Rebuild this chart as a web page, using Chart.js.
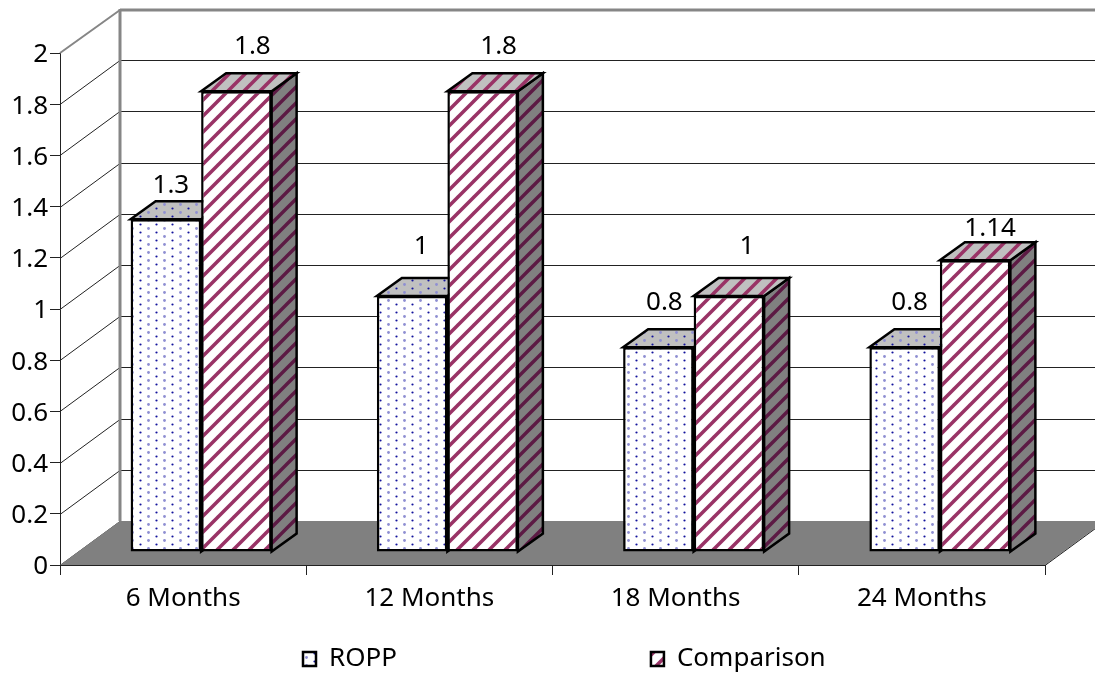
<!DOCTYPE html>
<html>
<head>
<meta charset="utf-8">
<title>ROPP vs Comparison</title>
<script src="https://cdn.jsdelivr.net/npm/chart.js@4"></script>
<style>
  body { margin: 0; background: #fff; }
  canvas { display: block; }
</style>
</head>
<body>
<canvas id="grafico" width="1095" height="673"></canvas>
<script>
//------ Datos ------//
const categorias = ['6 Months', '12 Months', '18 Months', '24 Months'];
const ropp = [1.3, 1, 0.8, 0.8];
const comparison = [1.8, 1.8, 1, 1.14];
const tickLabels = ['0', '0.2', '0.4', '0.6', '0.8', '1', '1.2', '1.4', '1.6', '1.8', '2'];

//------ Etiquetas: the source chart nudged each one by hand ------//
const nudgeRopp = [[5, -34], [9, -49], [6, -45], [5, -45]];
const nudgeComparison = [[16, -45], [16, -45], [18, -49], [15, -32]];

const fuente = '"Noto Sans", sans-serif';
const fuenteSize = 26;

// fake 3D: floor/walls depth, and bar shift + bar depth
const wallDx = 60, wallDy = 44;
const barShiftX = 18, barShiftY = -13;
const barDx = 25, barDy = 18;
const grosor = 2.5;

//------ Tramas ------//
function tramaPuntos(fondo) {
  const c = document.createElement('canvas');
  c.width = 16; c.height = 8;
  const g = c.getContext('2d');
  g.fillStyle = fondo;
  g.fillRect(0, 0, 16, 8);
  g.fillStyle = '#8f8fd2';
  g.beginPath();
  g.arc(2.5, 1.5, 1.4, 0, Math.PI * 2);
  g.fill();
  g.fillStyle = '#14149c';
  g.beginPath();
  g.arc(10.5, 5.5, 1.1, 0, Math.PI * 2);
  g.fill();
  return g.createPattern(c, 'repeat');
}

function tramaRayas(fondo, raya, ancho) {
  const s = 16;
  const c = document.createElement('canvas');
  c.width = s; c.height = s;
  const g = c.getContext('2d');
  g.fillStyle = fondo;
  g.fillRect(0, 0, s, s);
  g.filter = 'blur(0.5px)';
  g.strokeStyle = raya;
  g.lineWidth = ancho;
  [-2 * s, -s, 0, s].forEach(function (o) {
    g.beginPath();
    g.moveTo(o + 8, s + 2);
    g.lineTo(o + s + 12, -2);
    g.stroke();
  });
  return g.createPattern(c, 'repeat');
}

const frentePuntos = tramaPuntos('#ffffff');
const arribaPuntos = tramaPuntos('#c0c0c0');
const ladoPuntos = tramaPuntos('#808080');
const frenteRayas = tramaRayas('#ffffff', '#993366', 3.6);
const arribaRayas = tramaRayas('#c0c0c0', '#993366', 3.6);
const ladoRayas = tramaRayas('#808080', '#5c1a44', 3.4);

function cara(ctx, puntos, fill) {
  ctx.beginPath();
  puntos.forEach(function (p, i) {
    if (i === 0) ctx.moveTo(p[0], p[1]);
    else ctx.lineTo(p[0], p[1]);
  });
  ctx.closePath();
  ctx.fillStyle = fill;
  ctx.fill();
  ctx.stroke();
}

function linea(ctx, x1, y1, x2, y2) {
  ctx.beginPath();
  ctx.moveTo(x1, y1);
  ctx.lineTo(x2, y2);
  ctx.stroke();
}

//------ Paredes, piso, caras 3D y etiquetas ------//
const plugin3d = {
  id: 'plugin3d',
  beforeLayout: function (chart) {
    // the legend's item gap is its padding, which would also blow up its size
    const legend = chart.legend;
    if (legend && !legend.fitOriginal) {
      legend.fitOriginal = legend.fit;
      legend.fit = function () {
        this.maxWidth = 3000;
        this.fitOriginal();
        this.width = 1095;
        this.height = 48;
      };
    }
  },
  afterLayout: function (chart) {
    const legend = chart.legend;
    const gap = legend.options.labels.padding;
    legend.left = 303 - gap;
    legend.right = 3000;
    legend.top = 646 - gap;
  },
  beforeDatasetsDraw: function (chart) {
    const ctx = chart.ctx;
    const area = chart.chartArea;
    const yScale = chart.scales.y;
    const derecha = area.right + wallDx;
    ctx.save();

    // lineas de la pared
    ctx.strokeStyle = '#222222';
    ctx.lineWidth = 1;
    yScale.ticks.forEach(function (t) {
      const y = Math.round(yScale.getPixelForValue(t.value)) + 0.5;
      if (t.value === 2) return;
      linea(ctx, area.left, y, area.left + wallDx, y - wallDy);
      linea(ctx, area.left + wallDx, y - wallDy, derecha, y - wallDy);
    });

    // piso
    const y0 = yScale.getPixelForValue(0);
    ctx.fillStyle = '#808080';
    ctx.beginPath();
    ctx.moveTo(area.left, y0);
    ctx.lineTo(area.right, y0);
    ctx.lineTo(derecha, y0 - wallDy);
    ctx.lineTo(area.left + wallDx, y0 - wallDy);
    ctx.closePath();
    ctx.fill();
    linea(ctx, area.right, y0 + 0.5, derecha, y0 - wallDy + 0.5);

    // borde gris
    const y2 = yScale.getPixelForValue(2);
    ctx.strokeStyle = '#868686';
    ctx.lineWidth = 2;
    linea(ctx, area.left, y2, area.left + wallDx, y2 - wallDy + 1);
    ctx.lineWidth = 3;
    linea(ctx, area.left + wallDx, y2 - wallDy, area.left + wallDx, y0 - wallDy);
    linea(ctx, area.left + wallDx, y2 - wallDy + 1, derecha, y2 - wallDy + 1);

    // caras de arriba y de lado, bajo los frentes que dibuja la libreria
    ctx.translate(barShiftX, barShiftY);
    ctx.strokeStyle = '#000000';
    ctx.lineWidth = grosor;
    ctx.lineJoin = 'miter';
    categorias.forEach(function (c, i) {
      [0, 1].forEach(function (d) {
        const bar = chart.getDatasetMeta(d).data[i];
        const izq = bar.x - bar.width / 2;
        const der = bar.x + bar.width / 2;
        cara(ctx, [[der, bar.y], [der + barDx, bar.y - barDy], [der + barDx, bar.base - barDy], [der, bar.base]],
          d === 0 ? ladoPuntos : ladoRayas);
        cara(ctx, [[izq, bar.y], [der, bar.y], [der + barDx, bar.y - barDy], [izq + barDx, bar.y - barDy]],
          d === 0 ? arribaPuntos : arribaRayas);
      });
    });
    ctx.restore();

    // the bars themselves sit on the floor, not on the front edge
    ctx.save();
    ctx.translate(barShiftX, barShiftY);
  },
  afterDatasetsDraw: function (chart) {
    const ctx = chart.ctx;
    ctx.restore();
    ctx.save();
    ctx.font = fuenteSize + 'px ' + fuente;
    ctx.fillStyle = '#000000';
    ctx.textAlign = 'center';
    ctx.textBaseline = 'middle';
    [nudgeRopp, nudgeComparison].forEach(function (nudge, d) {
      const meta = chart.getDatasetMeta(d);
      meta.data.forEach(function (bar, i) {
        const valor = chart.data.datasets[d].data[i];
        ctx.fillText(String(valor), bar.x + barShiftX + nudge[i][0], bar.y + barShiftY + nudge[i][1]);
      });
    });
    ctx.restore();
  }
};

//------ Grafico ------//
let ctx = document.querySelector('#grafico');
let grafico = new Chart(ctx, {
  type: 'bar',
  data: {
    labels: categorias,
    datasets: [{
      label: 'ROPP',
      data: ropp,
      backgroundColor: frentePuntos,
      borderColor: '#000000',
      borderWidth: grosor,
      borderSkipped: false,
      clip: false
    }, {
      label: 'Comparison',
      data: comparison,
      backgroundColor: frenteRayas,
      borderColor: '#000000',
      borderWidth: grosor,
      borderSkipped: false,
      clip: false
    }]
  },
  options: {
    responsive: false,
    animation: false,
    layout: { padding: { left: 0, right: 50, top: 53, bottom: 0 } },
    datasets: { bar: { categoryPercentage: 0.5726, barPercentage: 1 } },
    plugins: {
      tooltip: { enabled: false },
      legend: {
        position: 'bottom',
        align: 'start',
        labels: {
          font: { family: fuente, size: fuenteSize },
          color: '#000000',
          boxWidth: 13,
          boxHeight: 14,
          padding: 254
        }
      }
    },
    scales: {
      x: {
        z: 1,
        afterFit: function (s) { s.height = 60; },
        border: { color: '#222222', width: 1 },
        grid: { drawOnChartArea: false, drawTicks: true, tickLength: 10, color: '#222222' },
        ticks: { color: '#000000', font: { family: fuente, size: fuenteSize }, padding: 8, maxRotation: 0 }
      },
      y: {
        z: 1,
        min: 0,
        max: 2,
        afterFit: function (s) { s.width = 60; },
        border: { color: '#222222', width: 1 },
        grid: { drawOnChartArea: false, drawTicks: true, tickLength: 10, color: '#222222' },
        ticks: {
          stepSize: 0.2,
          color: '#000000',
          font: { family: fuente, size: fuenteSize },
          padding: 2,
          labelOffset: 2,
          callback: function (v, i) { return tickLabels[i]; }
        }
      }
    }
  },
  plugins: [plugin3d]
});
</script>
</body>
</html>
